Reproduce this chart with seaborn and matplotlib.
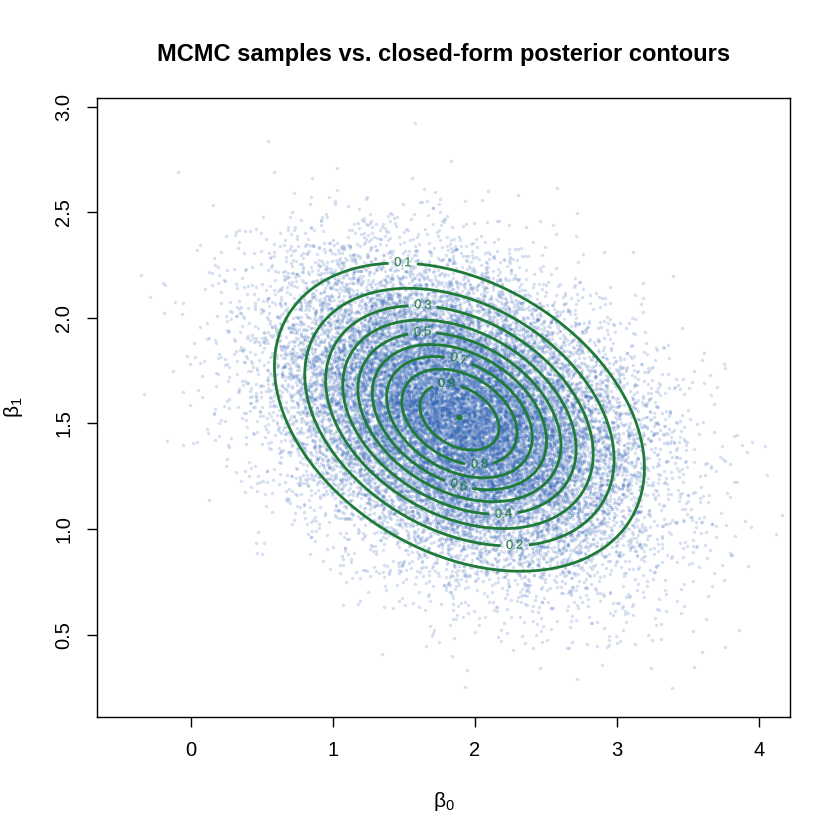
import numpy as np
import pandas as pd
import matplotlib
matplotlib.use("Agg")
import matplotlib.pyplot as plt
import seaborn as sns

# posterior summary (beta0, beta1)
post_mean = [1.89, 1.53]
post_sd = [0.607, 0.340]
post_rho = -0.33
n_draws = 24000

# contour levels (density relative to its peak) and where R put the labels
contour_levels = [0.1, 0.2, 0.3, 0.4, 0.5, 0.6, 0.7, 0.8, 0.9]
label_x = [1.49, 2.28, 1.63, 2.20, 1.63, 1.88, 1.88, 2.03, 1.80]
label_y = [2.26, 0.92, 2.05, 1.07, 1.92, 1.20, 1.80, 1.31, 1.67]

x_ticks = [0, 1, 2, 3, 4]
y_ticks = [0.5, 1.0, 1.5, 2.0, 2.5, 3.0]
title = "MCMC samples vs. closed-form posterior contours"

sns.set_theme(style="white")
plt.rcParams["font.family"] = ["Liberation Sans", "DejaVu Sans"]
plt.rcParams["text.color"] = "black"
plt.rcParams["axes.labelcolor"] = "black"
plt.rcParams["mathtext.fontset"] = "custom"
plt.rcParams["mathtext.rm"] = "Liberation Sans"
plt.rcParams["mathtext.it"] = "Liberation Sans"

cov = np.array([[post_sd[0] ** 2, post_rho * post_sd[0] * post_sd[1]],
                [post_rho * post_sd[0] * post_sd[1], post_sd[1] ** 2]])

# sampler output stand-in: draws from the posterior above
rng = np.random.default_rng(7)
draws = pd.DataFrame(rng.multivariate_normal(post_mean, cov, n_draws),
                     columns=["beta0", "beta1"])

fig = plt.figure(figsize=(8.4, 8.4), dpi=100)
ax = fig.add_axes([0.1155, 0.1464, 0.825, 0.7369])

sns.scatterplot(data=draws, x="beta0", y="beta1", ax=ax, s=6,
                color=(0.2, 0.4, 0.72), alpha=0.2, linewidth=0, legend=False)

# closed-form density on a grid
gx = np.linspace(-0.7, 4.3, 400)
gy = np.linspace(0.0, 3.1, 400)
GX, GY = np.meshgrid(gx, gy)
inv = np.linalg.inv(cov)
dx = GX - post_mean[0]
dy = GY - post_mean[1]
q = inv[0, 0] * dx ** 2 + 2 * inv[0, 1] * dx * dy + inv[1, 1] * dy ** 2
dens = np.exp(-0.5 * q)

green = "#1f7a38"
for lv, lx, ly in zip(contour_levels, label_x, label_y):
    cs = ax.contour(GX, GY, dens, levels=[lv], colors=green, linewidths=2)
    ax.clabel(cs, fmt="%.1f", fontsize=9.5, inline=True, inline_spacing=3,
              manual=[(lx, ly)])

ax.plot(post_mean[0], post_mean[1], "o", color=green, markersize=3.5)

ax.set_xlim(-0.662, 4.218)
ax.set_ylim(0.11, 3.041)
ax.set_xticks(x_ticks)
ax.set_xticklabels([str(t) for t in x_ticks])
ax.set_yticks(y_ticks)
ax.set_yticklabels([f"{t:.1f}" for t in y_ticks], rotation=90, va="center")
ax.tick_params(axis="both", direction="out", length=7, width=1, labelsize=14.5,
               bottom=True, left=True, pad=10, colors="black")
for sp in ax.spines.values():
    sp.set_color("black")
    sp.set_linewidth(1)

ax.set_xlabel(r"$\beta_0$", fontsize=15, labelpad=22)
ax.set_ylabel(r"$\beta_1$", fontsize=15, labelpad=21)
ax.set_title(title, fontsize=17, fontweight="bold", pad=27, color="black")

fig.savefig("out.png", dpi=100)
